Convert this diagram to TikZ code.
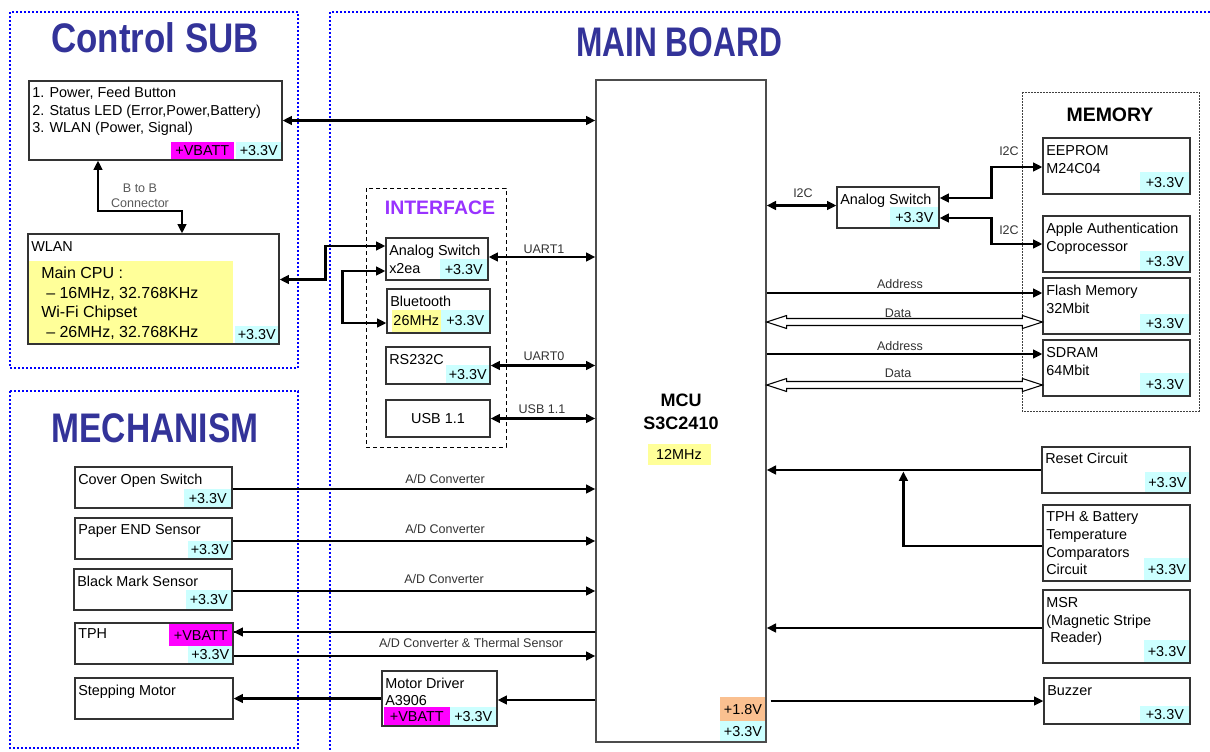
\documentclass[tikz,border=0pt]{standalone}
\usepackage{fontspec}
\setmainfont{Liberation Sans}
\newfontfamily\titlefont[FakeStretch=0.8]{Liberation Sans Bold}
\usetikzlibrary{arrows.meta,fit,calc}
\definecolor{tcyan}{HTML}{CCFFFF}
\definecolor{tmag}{HTML}{FF00FF}
\definecolor{tyel}{HTML}{FFFF99}
\definecolor{torg}{HTML}{FAC090}
\definecolor{tblue}{HTML}{333399}
\definecolor{tpurp}{HTML}{9933FF}
\definecolor{fblue}{HTML}{0000FF}
\newcommand\bodyf{\fontsize{10.8}{13}\selectfont}
\newcommand\lblf{\fontsize{9.4}{11}\selectfont}
\newcommand\wlanf{\fontsize{12}{14}\selectfont}
\newcommand\titlef{\titlefont\fontsize{31}{35}\selectfont}
\newcommand\hollowarrow[2]{%
  \draw[line width=0.8pt, fill=white] (#1) -- ($(#1)+(20,-6.5)$) -- ($(#1)+(20,-3.5)$)
  -- ($(#2)+(-20,-3.5)$) -- ($(#2)+(-20,-6.5)$) -- (#2) -- ($(#2)+(-20,6.5)$)
  -- ($(#2)+(-20,3.5)$) -- ($(#1)+(20,3.5)$) -- ($(#1)+(20,6.5)$) -- cycle;}
\begin{document}
\begin{tikzpicture}[x=0.75pt,y=-0.75pt,
  box/.style={draw=black!80, line width=0.9pt, inner sep=0pt},
  txt/.style={anchor=west, inner sep=0pt, font=\bodyf, text height=7.7pt, text depth=0pt},
  lbl/.style={inner sep=0pt, font=\lblf, text height=6.8pt, text depth=0pt, text=black!80},
  tag/.style={inner sep=0pt, font=\bodyf, text height=7.7pt, text depth=0pt},
  frame/.style={draw=fblue, line width=1.5pt, dash pattern=on 1.5pt off 1.5pt},
  title/.style={font=\titlef, text=tblue, inner sep=0pt, text height=22.2pt, text depth=0pt},
  subtitle/.style={font=\fontsize{14.6}{16}\selectfont\bfseries, inner sep=0pt, text height=10.5pt, text depth=0pt},
  con/.style={line width=1.7pt},
  ar/.style={con, -{Triangle[length=7pt,width=6.5pt]}},
  ab/.style={con, {Triangle[length=7pt,width=6.5pt]}-{Triangle[length=7pt,width=6.5pt]}}]
\useasboundingbox (0,0) rectangle (1210,751);

% frames
\draw[frame] (10,12) rectangle (298,368);
\draw[frame] (10,391) rectangle (298,748);
\draw[frame] (1214,12) -- (330,12) -- (330,755);
\node[title] (t1) at (155,38) {\scalebox{1.056}[1]{Control SUB}};
\node[title] (t2) at (155,428) {\scalebox{1.015}[1]{MECHANISM}};
\node[title] (t3) at (679,42) {\scalebox{0.958}[1]{MAIN BOARD}};

% ---------- Control SUB ----------
\node[box, fit={(29,81) (282,160)}] (ctrl) {};
\node[txt] at (32,92) {1. Power, Feed Button};
\node[txt] at (32,110) {2. Status LED (Error,Power,Battery)};
\node[txt] at (32,127) {3. WLAN (Power, Signal)};
\node[tag, fill=tcyan, minimum width=33.75pt, minimum height=12.75pt, anchor=south east] (c1v) at ($(ctrl.south east)+(-1,-1)$) {+3.3V};
\node[tag, fill=tmag, minimum width=47.25pt, minimum height=12.75pt, anchor=south east] at ($(c1v.south west)+(-2,0)$) {+VBATT};

\node[box, fit={(28,234) (279,344)}] (wlan) {};
\node[txt] at (31,246) {WLAN};
\node[inner sep=0pt, fill=tyel, minimum width=153pt, minimum height=61.5pt, anchor=south west] (wy) at ($(wlan.south west)+(1,-1)$) {};
\node[txt, font=\wlanf, text height=8.6pt] at (41,273) {Main CPU :};
\node[txt, font=\wlanf, text height=8.6pt] at (46,293) {– 16MHz, 32.768KHz};
\node[txt, font=\wlanf, text height=8.6pt] at (41,312) {Wi-Fi Chipset};
\node[txt, font=\wlanf, text height=8.6pt] at (46,332) {– 26MHz, 32.768KHz};
\node[tag, fill=tcyan, minimum width=32.25pt, minimum height=12.75pt, anchor=south east] at ($(wlan.south east)+(-1,-1)$) {+3.3V};

\draw[ab] (ctrl.south -| 98,0) -- (98,211) -- (182,211) -- (wlan.north -| 182,0);
\node[lbl, text=black!65] at (140,188) {B to B};
\node[lbl, text=black!65] at (140,203) {Connector};

% ---------- MCU ----------
\node[draw=black!70, line width=1pt, inner sep=0pt, fit={(596,80) (766,742)}] (mcu) {};
\node[inner sep=0pt, font=\fontsize{13.5}{15}\selectfont\bfseries, text height=9.7pt, text depth=0pt] at (681,400) {MCU};
\node[inner sep=0pt, font=\fontsize{13.5}{15}\selectfont\bfseries, text height=9.7pt, text depth=0pt] at (681,423) {S3C2410};
\node[tag, fill=tyel, minimum width=47.25pt, minimum height=15.75pt] at (679,454) {12MHz};
\node[tag, fill=tcyan, minimum width=33.75pt, minimum height=15pt, anchor=south east] (m33) at ($(mcu.south east)+(-1,-1)$) {+3.3V};
\node[tag, fill=torg, minimum width=33.75pt, minimum height=18pt, anchor=south east] at (m33.north east) {+1.8V};

\draw[ab] (ctrl.east) -- (ctrl.east -| mcu.west);

% ---------- INTERFACE ----------
\draw[black, line width=0.75pt, dash pattern=on 3pt off 2.25pt] (366,188) rectangle (506,447);
\node[subtitle, text=tpurp] at (440,207) {INTERFACE};

\node[box, fit={(386,238) (488,280)}] (asw) {};
\node[txt] at (389,250) {Analog Switch};
\node[txt] at (389,268) {x2ea};
\node[tag, fill=tcyan, minimum width=35.25pt, minimum height=15pt, anchor=south east] at ($(asw.south east)+(-1,-1)$) {+3.3V};

\node[box, fit={(387,289) (490,333)}] (bt) {};
\node[txt] at (390,301) {Bluetooth};
\node[tag, fill=tcyan, minimum width=36pt, minimum height=16.5pt, anchor=south east] (btv) at ($(bt.south east)+(-1,-1.5)$) {+3.3V};
\node[tag, fill=tyel, minimum width=36.75pt, minimum height=16.5pt, anchor=south east] at (btv.south west) {26MHz};

\node[box, fit={(386,347) (490,384)}] (rs) {};
\node[txt] at (389,359) {RS232C};
\node[tag, fill=tcyan, minimum width=32.25pt, minimum height=13.5pt, anchor=south east] at ($(rs.south east)+(-1,-1)$) {+3.3V};

\node[box, fit={(386,400) (490,437)}] (usb) {};
\node[tag] at (usb.center) {USB 1.1};

\draw[ab] ($(wlan.east)+(0,-9.5)$) -- ++(46,0) |- ($(asw.west)+(0,-13)$);
\draw[ab] ($(asw.west)+(0,12)$) -- ++(-43,0) |- ($(bt.west)+(0,12)$);

\draw[ab] ($(asw.east)+(0,-2)$) coordinate (u1) -- (u1 -| mcu.west);
\node[lbl] at (544,249) {UART1};
\draw[ab] (rs.east) -- (rs.east -| mcu.west);
\node[lbl] at (544,356) {UART0};
\draw[ab] (usb.east) -- (usb.east -| mcu.west);
\node[lbl] at (542,409) {USB 1.1};

% ---------- right side: I2C / MEMORY ----------
\node[box, fit={(837,187) (939,228)}] (rsw) {};
\node[txt] at (840,199) {Analog Switch};
\node[tag, fill=tcyan, minimum width=36pt, minimum height=15pt, anchor=south east] at ($(rsw.south east)+(-1,-1)$) {+3.3V};
\draw[ab] ($(rsw.west)+(0,-2)$) coordinate (i1) -- (i1 -| mcu.east);
\node[lbl] at (803,193) {I2C};

\draw[black!75, line width=0.6pt, dash pattern=on 1.5pt off 0.75pt] (1022,92) rectangle (1199,411);
\node[subtitle] at (1110,114) {MEMORY};

\node[box, fit={(1043,138) (1190,194)}] (eep) {};
\node[txt] at (1046,150) {EEPROM};
\node[txt] at (1046,168) {M24C04};
\node[tag, fill=tcyan, minimum width=36.75pt, minimum height=15.75pt, anchor=south east] at ($(eep.south east)+(-1,-1)$) {+3.3V};

\node[box, fit={(1043,216) (1190,272)}] (apple) {};
\node[txt] at (1046,228) {Apple Authentication};
\node[txt] at (1046,246) {Coprocessor};
\node[tag, fill=tcyan, minimum width=36.75pt, minimum height=15pt, anchor=south east] at ($(apple.south east)+(-1,-1)$) {+3.3V};

\node[box, fit={(1043,278) (1190,334)}] (flash) {};
\node[txt] at (1046,290) {Flash Memory};
\node[txt] at (1046,308) {32Mbit};
\node[tag, fill=tcyan, minimum width=36.75pt, minimum height=14.25pt, anchor=south east] at ($(flash.south east)+(-1,-1)$) {+3.3V};

\node[box, fit={(1043,340) (1190,396)}] (sdram) {};
\node[txt] at (1046,352) {SDRAM};
\node[txt] at (1046,370) {64Mbit};
\node[tag, fill=tcyan, minimum width=36.75pt, minimum height=16.5pt, anchor=south east] at ($(sdram.south east)+(-1,-1)$) {+3.3V};

\draw[ab] ($(rsw.east)+(0,-9.5)$) -- ++(52,0) |- ($(eep.west)+(0,1)$);
\node[lbl] at (1009,151) {I2C};
\draw[ab] ($(rsw.east)+(0,10.5)$) -- ++(52,0) |- (apple.west);
\node[lbl] at (1009,230) {I2C};

\path ($(flash.west)+(0,-13)$) coordinate (fa) ($(flash.west)+(0,16)$) coordinate (fd);
\draw[ar] (fa -| mcu.east) -- (fa);
\node[lbl] at (900,284) {Address};
\path (fd -| mcu.east) coordinate (fd0);
\hollowarrow{fd0}{fd}
\node[lbl] at (898,313) {Data};

\path ($(sdram.west)+(0,-14)$) coordinate (sa) ($(sdram.west)+(0,17)$) coordinate (sd);
\draw[ar] (sa -| mcu.east) -- (sa);
\node[lbl] at (900,346) {Address};
\path (sd -| mcu.east) coordinate (sd0);
\hollowarrow{sd0}{sd}
\node[lbl] at (898,373) {Data};

% ---------- right side: lower ----------
\node[box, fit={(1042,447) (1190,493)}] (reset) {};
\node[txt] at (1045,458) {Reset Circuit};
\node[tag, fill=tcyan, minimum width=33pt, minimum height=15pt, anchor=south east] at ($(reset.south east)+(-1,-1)$) {+3.3V};
\draw[ar] (reset.west) -- (reset.west -| mcu.east);

\node[box, fit={(1043,505) (1190,581)}] (tphb) {};
\node[txt] at (1046,516) {TPH \& Battery};
\node[txt] at (1046,534) {Temperature};
\node[txt] at (1046,552) {Comparators};
\node[txt] at (1046,569) {Circuit};
\node[tag, fill=tcyan, minimum width=33.75pt, minimum height=16.5pt, anchor=south east] at ($(tphb.south east)+(-1,-1)$) {+3.3V};
\draw[ar] ($(tphb.west)+(0,3)$) -| ($(reset.west)+(-138,1.5)$);

\node[box, fit={(1043,590) (1190,663)}] (msr) {};
\node[txt] at (1046,602) {MSR};
\node[txt] at (1046,620) {(Magnetic Stripe};
\node[txt] at (1050,637) {Reader)};
\node[tag, fill=tcyan, minimum width=33.75pt, minimum height=16.5pt, anchor=south east] at ($(msr.south east)+(-1,-1)$) {+3.3V};
\draw[ar] ($(msr.west)+(0,1.5)$) coordinate (ms) -- (ms -| mcu.east);

\node[box, fit={(1044,678) (1190,724)}] (buz) {};
\node[txt] at (1047,690) {Buzzer};
\node[tag, fill=tcyan, minimum width=36.75pt, minimum height=12.75pt, anchor=south east] at ($(buz.south east)+(-1,-1)$) {+3.3V};
\draw[ar] ($(buz.west -| mcu.east)+(4,0)$) -- (buz.west);

% ---------- MECHANISM ----------
\node[box, fit={(75,467) (232,508)}] (cov) {};
\node[txt] at (78,479) {Cover Open Switch};
\node[tag, fill=tcyan, minimum width=35.25pt, minimum height=13.5pt, anchor=south east] at ($(cov.south east)+(-1,-1)$) {+3.3V};
\draw[ar] ($(cov.east)+(0,1.5)$) coordinate (cv) -- (cv -| mcu.west);
\node[lbl] at (445,479) {A/D Converter};

\node[box, fit={(75,518) (232,559)}] (pap) {};
\node[txt] at (78,529) {Paper END Sensor};
\node[tag, fill=tcyan, minimum width=32.25pt, minimum height=12.75pt, anchor=south east] at ($(pap.south east)+(-1,-1)$) {+3.3V};
\draw[ar] ($(pap.east)+(0,2.5)$) coordinate (pp) -- (pp -| mcu.west);
\node[lbl] at (445,529) {A/D Converter};

\node[box, fit={(74,569) (232,610)}] (blk) {};
\node[txt] at (77,581) {Black Mark Sensor};
\node[tag, fill=tcyan, minimum width=33.75pt, minimum height=14.25pt, anchor=south east] at ($(blk.south east)+(-1,-1)$) {+3.3V};
\draw[ar] ($(blk.east)+(0,1.5)$) coordinate (bk) -- (bk -| mcu.west);
\node[lbl] at (444,579) {A/D Converter};

\node[box, fit={(75,623) (233,664)}] (tph) {};
\node[txt] at (78,633) {TPH};
\node[tag, fill=tmag, minimum width=47.25pt, minimum height=17pt, anchor=north east] at ($(tph.north east)+(-1,1)$) {+VBATT};
\node[tag, fill=tcyan, minimum width=33pt, minimum height=13pt, anchor=south east] at ($(tph.south east)+(-1,-1)$) {+3.3V};
\draw[ar] ($(tph.east)+(0,-11.5)$) coordinate (tp1) -- (tp1 -| mcu.west) -- (tp1);
\draw[ar] ($(tph.east)+(0,12.5)$) coordinate (tp2) -- (tp2 -| mcu.west);
\node[lbl] at (471,643) {A/D Converter \& Thermal Sensor};

\node[box, fit={(75,678) (233,719)}] (stp) {};
\node[txt] at (78,690) {Stepping Motor};

\node[box, fit={(382,671) (497,726)}] (mot) {};
\node[txt] at (385,683) {Motor Driver};
\node[txt] at (385,700) {A3906};
\node[tag, fill=tcyan, minimum width=34.5pt, minimum height=13.5pt, anchor=south east] (mv) at ($(mot.south east)+(-1,-1)$) {+3.3V};
\node[tag, fill=tmag, minimum width=49.5pt, minimum height=13.5pt, anchor=south east] at (mv.south west) {+VBATT};
\draw[ar] ($(mot.east -| mcu.west)+(0,1.5)$) coordinate (md) -- (md -| mot.east);
\draw[ar] (mot.west) -- (mot.west -| stp.east);
\end{tikzpicture}
\end{document}
